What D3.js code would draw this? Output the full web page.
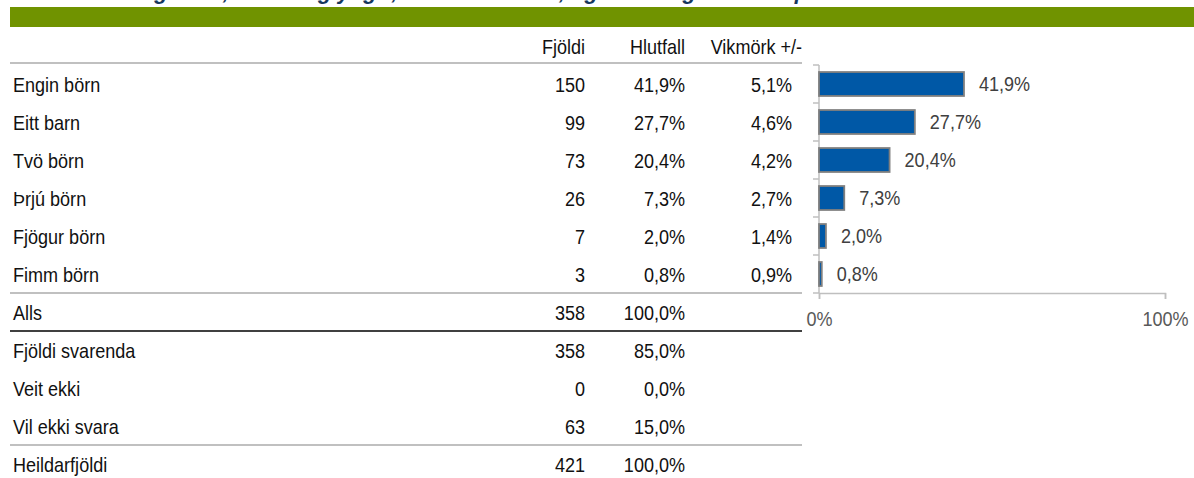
<!DOCTYPE html>
<html>
<head>
<meta charset="utf-8">
<script src="https://cdn.jsdelivr.net/npm/d3@7"></script>
<style>
  html, body { margin: 0; padding: 0; background: #ffffff; }
  svg { display: block; }
  text { font-family: "Liberation Sans", Arial, sans-serif; }
</style>
</head>
<body>
<svg id="chart" width="1194" height="478"></svg>
<script>
// Heading and column titles
const titleText = "Hversu mörg börn, 18 ára og yngri, eru á heimilinu, og hversu gömul eru þau?";
const columnHeaders = ["Fjöldi", "Hlutfall", "Vikmörk +/-"];

// Answer categories with count, share (%) and margin of error (%)
const categories = ["Engin börn", "Eitt barn", "Tvö börn", "Þrjú börn", "Fjögur börn", "Fimm börn"];
const counts = [150, 99, 73, 26, 7, 3];
const shares = [41.9, 27.7, 20.4, 7.3, 2.0, 0.8];
const margins = [5.1, 4.6, 4.2, 2.7, 1.4, 0.9];

// Total of answers
const totalLabel = "Alls";
const totalCount = 358;
const totalShare = 100.0;

// Response summary
const summaryLabels = ["Fjöldi svarenda", "Veit ekki", "Vil ekki svara"];
const summaryCounts = [358, 0, 63];
const summaryShares = [85.0, 0.0, 15.0];

// Grand total
const grandLabel = "Heildarfjöldi";
const grandCount = 421;
const grandShare = 100.0;

// Bar axis ticks (%)
const axisTicks = [0, 100];

const W = 1194, H = 478;
const svg = d3.select("#chart");

const isLocale = d3.formatLocale({ decimal: ",", thousands: ".", grouping: [3], currency: ["", " kr."] });
const pct = v => isLocale.format(".1f")(v) + "%";
const intFmt = isLocale.format("d");

// Narrow text: tall glyphs squeezed horizontally
const FS = 20.5, SX = 0.88;
function label(parent, px, py, str, anchor, color) {
  return parent.append("text")
    .attr("transform", `translate(${px},${py}) scale(${SX},1)`)
    .attr("text-anchor", anchor || "start")
    .attr("font-size", FS)
    .attr("fill", color || "#111111")
    .text(str);
}

// Title (sits mostly above the top edge) and green band
svg.append("text")
  .attr("x", 32).attr("y", -1)
  .attr("font-size", 22).attr("font-weight", "bold").attr("font-style", "italic")
  .attr("fill", "#17375e")
  .text(titleText);

svg.append("rect")
  .attr("x", 10).attr("y", 7).attr("width", W - 10).attr("height", 20)
  .attr("fill", "#709300");

// Table rows: categories, total, summary, grand total
const rows = [];
categories.forEach((c, i) => rows.push({ label: c, count: counts[i], share: shares[i], margin: margins[i] }));
rows.push({ label: totalLabel, count: totalCount, share: totalShare });
summaryLabels.forEach((c, i) => rows.push({ label: c, count: summaryCounts[i], share: summaryShares[i] }));
rows.push({ label: grandLabel, count: grandCount, share: grandShare });

const y = d3.scaleBand()
  .domain(d3.range(rows.length))
  .range([65, 65 + 38 * rows.length]);

const colLabelX = 13, colCountX = 585, colShareX = 685, colMarginX = 792;
const tableRight = 802;

// Column headers
const headerY = 54;
label(svg, colCountX, headerY, columnHeaders[0], "end");
label(svg, colShareX, headerY, columnHeaders[1], "end");
label(svg, tableRight, headerY, columnHeaders[2], "end");

// Separator lines
const sep = (yy, color, w) => svg.append("line")
  .attr("x1", 10).attr("x2", tableRight).attr("y1", yy).attr("y2", yy)
  .attr("stroke", color).attr("stroke-width", w);
sep(63, "#c0c0c0", 2);
sep(y(6), "#c0c0c0", 2);
sep(y(7), "#404040", 2);
sep(y(10), "#c0c0c0", 2);

// Row texts
const tableG = svg.append("g");
rows.forEach((d, i) => {
  const by = y(i) + y.bandwidth() / 2 + 7.5;
  label(tableG, colLabelX, by, d.label, "start");
  label(tableG, colCountX, by, intFmt(d.count), "end");
  label(tableG, colShareX, by, pct(d.share), "end");
  if (d.margin !== undefined) label(tableG, colMarginX, by, pct(d.margin), "end");
});

// Bar chart
const x = d3.scaleLinear().domain([0, 100]).range([819, 1165]);
const yBar = d3.scaleBand().domain(categories).range([y(0), y(6)]).paddingInner(0.37).paddingOuter(0.185);
const chartBottom = y(6);

const axisColor = "#bfbfbf";
// category axis with tick marks between bands
const catAxis = svg.append("g");
catAxis.append("line").attr("x1", x(0)).attr("x2", x(0)).attr("y1", y(0)).attr("y2", chartBottom)
  .attr("stroke", axisColor).attr("stroke-width", 1.5);
catAxis.selectAll("line.tick").data(d3.range(categories.length + 1)).join("line")
  .attr("class", "tick")
  .attr("x1", x(0) - 6).attr("x2", x(0))
  .attr("y1", i => y(0) + i * (chartBottom - y(0)) / categories.length)
  .attr("y2", i => y(0) + i * (chartBottom - y(0)) / categories.length)
  .attr("stroke", axisColor).attr("stroke-width", 1.5);

// value axis
const xAxis = d3.axisBottom(x).tickValues(axisTicks).tickSize(6).tickPadding(12)
  .tickFormat(d => d + "%");
const gx = svg.append("g").attr("transform", `translate(0,${chartBottom})`).call(xAxis);
gx.select(".domain").attr("stroke", axisColor).attr("stroke-width", 1.5);
gx.selectAll(".tick line").attr("stroke", axisColor).attr("stroke-width", 1.5);
gx.selectAll(".tick text")
  .attr("font-size", FS).attr("fill", "#595959")
  .attr("transform", `scale(${SX},1)`)
  .attr("font-family", "'Liberation Sans', Arial, sans-serif");

// bars
svg.append("g").selectAll("rect").data(categories).join("rect")
  .attr("x", x(0))
  .attr("y", d => yBar(d))
  .attr("width", (d, i) => x(shares[i]) - x(0))
  .attr("height", yBar.bandwidth())
  .attr("fill", "#0058a6")
  .attr("stroke", "#7f7f7f").attr("stroke-width", 1.8);

// bar value labels
const valG = svg.append("g");
categories.forEach((d, i) => {
  label(valG, x(shares[i]) + 15, yBar(d) + yBar.bandwidth() / 2 + 7, pct(shares[i]), "start", "#404040");
});
</script>
</body>
</html>
